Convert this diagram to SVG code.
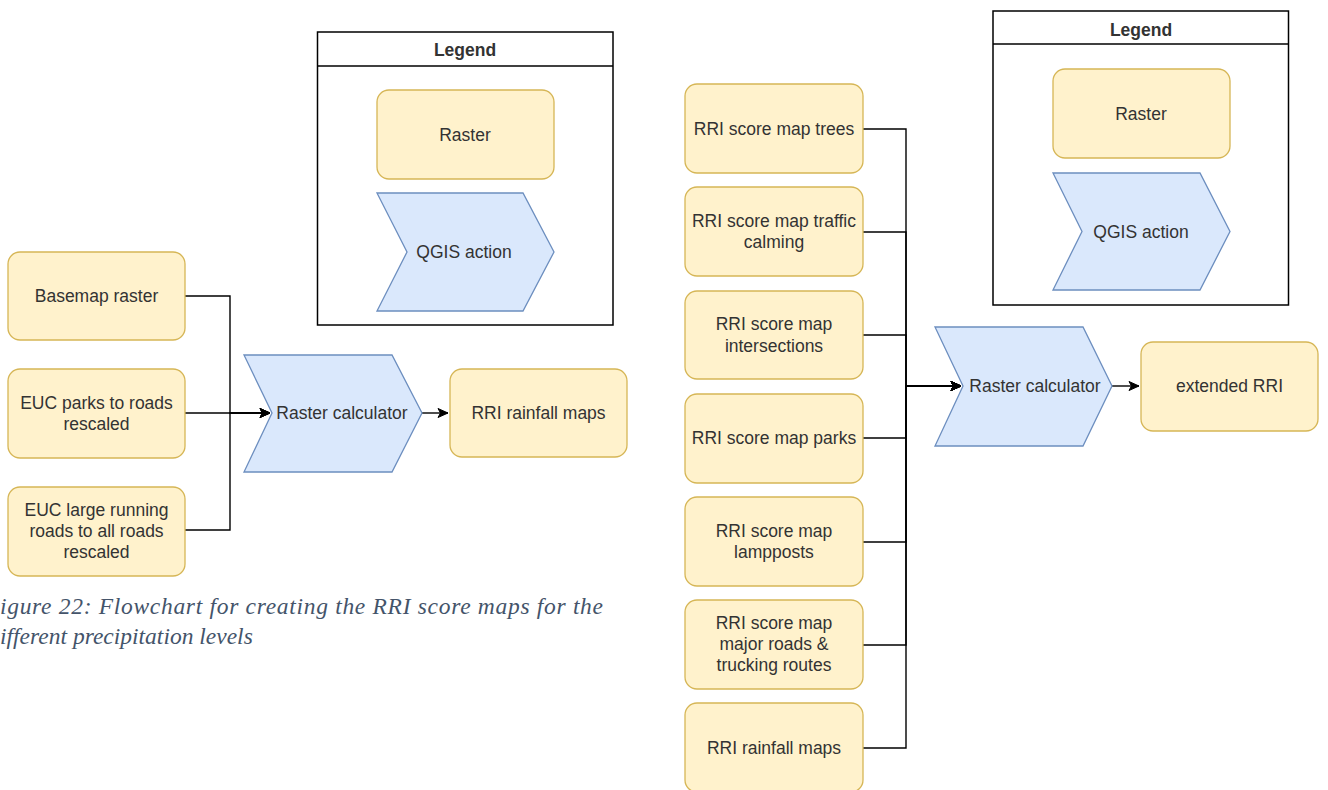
<svg xmlns="http://www.w3.org/2000/svg" width="1328" height="790" viewBox="0 0 1328 790">
<style>
.r{fill:#fff2cc;stroke:#d6b656;stroke-width:1.3}
.q{fill:#dae8fc;stroke:#6c8ebf;stroke-width:1.3}
.lg{fill:#ffffff;stroke:#000000;stroke-width:1.5}
.t{font-family:"Liberation Sans",Arial,sans-serif;font-size:17.5px;fill:#333333;text-anchor:middle}
.b{font-weight:bold}
.e{fill:none;stroke:#000000;stroke-width:1.4}
.cap{font-family:"Liberation Serif","Times New Roman",serif;font-style:italic;font-size:23.5px;fill:#44546a}
</style>
<defs>
<marker id="ah" markerWidth="12" markerHeight="12" refX="11" refY="6" orient="auto" markerUnits="userSpaceOnUse">
<path d="M1,1.5 L11,6 L1,10.5 L3.5,6 Z" fill="#000000" stroke="#000000" stroke-width="1"/>
</marker>
</defs>

<g id="legend-left">
<rect class="lg" x="317.5" y="32" width="295.5" height="293"/>
<line x1="317.5" y1="66" x2="613" y2="66" stroke="#000" stroke-width="1.5"/>
<text class="t b" x="465" y="55.5">Legend</text>
<rect class="r" x="377" y="90" width="177" height="89" rx="12"/>
<text class="t" x="465" y="140.5">Raster</text>
<polygon class="q" points="377,193 523,193 554,252 523,311 377,311 407,252"/>
<text class="t" x="464" y="258">QGIS action</text>
</g>

<g id="legend-right">
<rect class="lg" x="993" y="11" width="295.5" height="294"/>
<line x1="993" y1="44" x2="1288.5" y2="44" stroke="#000" stroke-width="1.5"/>
<text class="t b" x="1141" y="35.5">Legend</text>
<rect class="r" x="1053" y="69" width="177" height="89" rx="12"/>
<text class="t" x="1141" y="119.5">Raster</text>
<polygon class="q" points="1053,173 1200,173 1230,231.5 1200,290 1053,290 1082,231.5"/>
<text class="t" x="1141" y="237.5">QGIS action</text>
</g>

<g id="connectors">
<path class="e" d="M185,296 H230 V413 H270" marker-end="url(#ah)"/>
<path class="e" d="M185,413 H270" marker-end="url(#ah)"/>
<path class="e" d="M185,530 H230 V413 H270" marker-end="url(#ah)"/>
<path class="e" d="M422,413 H448" marker-end="url(#ah)"/>
<path class="e" d="M863,129 H906 V386 H961" marker-end="url(#ah)"/>
<path class="e" d="M863,232 H906 V386 H961" marker-end="url(#ah)"/>
<path class="e" d="M863,335 H906 V386 H961" marker-end="url(#ah)"/>
<path class="e" d="M863,438 H906 V386 H961" marker-end="url(#ah)"/>
<path class="e" d="M863,542 H906 V386 H961" marker-end="url(#ah)"/>
<path class="e" d="M863,645 H906 V386 H961" marker-end="url(#ah)"/>
<path class="e" d="M863,748 H906 V386 H961" marker-end="url(#ah)"/>
<path class="e" d="M1112,386 H1139" marker-end="url(#ah)"/>
</g>

<g id="basemap-raster">
<rect class="r" x="8" y="252" width="177" height="88" rx="12"/>
<text class="t" x="96.5" y="302">Basemap raster</text>
</g>
<g id="euc-parks">
<rect class="r" x="8" y="369" width="177" height="89" rx="12"/>
<text class="t" x="96.5" y="409">EUC parks to roads</text>
<text class="t" x="96.5" y="430">rescaled</text>
</g>
<g id="euc-large">
<rect class="r" x="8" y="487" width="177" height="89" rx="12"/>
<text class="t" x="96.5" y="515.5">EUC large running</text>
<text class="t" x="96.5" y="536.5">roads to all roads</text>
<text class="t" x="96.5" y="557.5">rescaled</text>
</g>
<g id="raster-calc-left">
<polygon class="q" points="244,355 392,355 422,413 392,472 244,472 272,413"/>
<text class="t" x="342" y="419">Raster calculator</text>
</g>
<g id="rri-rainfall-left">
<rect class="r" x="450" y="369" width="177" height="88" rx="12"/>
<text class="t" x="538.5" y="419">RRI rainfall maps</text>
</g>

<g id="rri-trees">
<rect class="r" x="685" y="84" width="178" height="89" rx="12"/>
<text class="t" x="774" y="134.5">RRI score map trees</text>
</g>
<g id="rri-traffic">
<rect class="r" x="685" y="187" width="178" height="89" rx="12"/>
<text class="t" x="774" y="226.5">RRI score map traffic</text>
<text class="t" x="774" y="248">calming</text>
</g>
<g id="rri-intersections">
<rect class="r" x="685" y="291" width="178" height="88" rx="12"/>
<text class="t" x="774" y="330">RRI score map</text>
<text class="t" x="774" y="351.5">intersections</text>
</g>
<g id="rri-parks">
<rect class="r" x="685" y="394" width="178" height="89" rx="12"/>
<text class="t" x="774" y="443.5">RRI score map parks</text>
</g>
<g id="rri-lampposts">
<rect class="r" x="685" y="497" width="178" height="89" rx="12"/>
<text class="t" x="774" y="536.5">RRI score map</text>
<text class="t" x="774" y="558">lampposts</text>
</g>
<g id="rri-major-roads">
<rect class="r" x="685" y="600" width="178" height="89" rx="12"/>
<text class="t" x="774" y="629">RRI score map</text>
<text class="t" x="774" y="650">major roads &amp;</text>
<text class="t" x="774" y="671">trucking routes</text>
</g>
<g id="rri-rainfall-right">
<rect class="r" x="685" y="703" width="178" height="89" rx="12"/>
<text class="t" x="774" y="753.5">RRI rainfall maps</text>
</g>
<g id="raster-calc-right">
<polygon class="q" points="935,327 1083,327 1112,386 1083,446 935,446 963,386"/>
<text class="t" x="1035" y="392">Raster calculator</text>
</g>
<g id="extended-rri">
<rect class="r" x="1141" y="342" width="177" height="89" rx="12"/>
<text class="t" x="1229.5" y="392">extended RRI</text>
</g>

<g id="caption">
<text class="cap" x="0" y="614" textLength="603" lengthAdjust="spacing">igure 22: Flowchart for creating the RRI score maps for the</text>
<text class="cap" x="0" y="644">ifferent precipitation levels</text>
</g>
</svg>
